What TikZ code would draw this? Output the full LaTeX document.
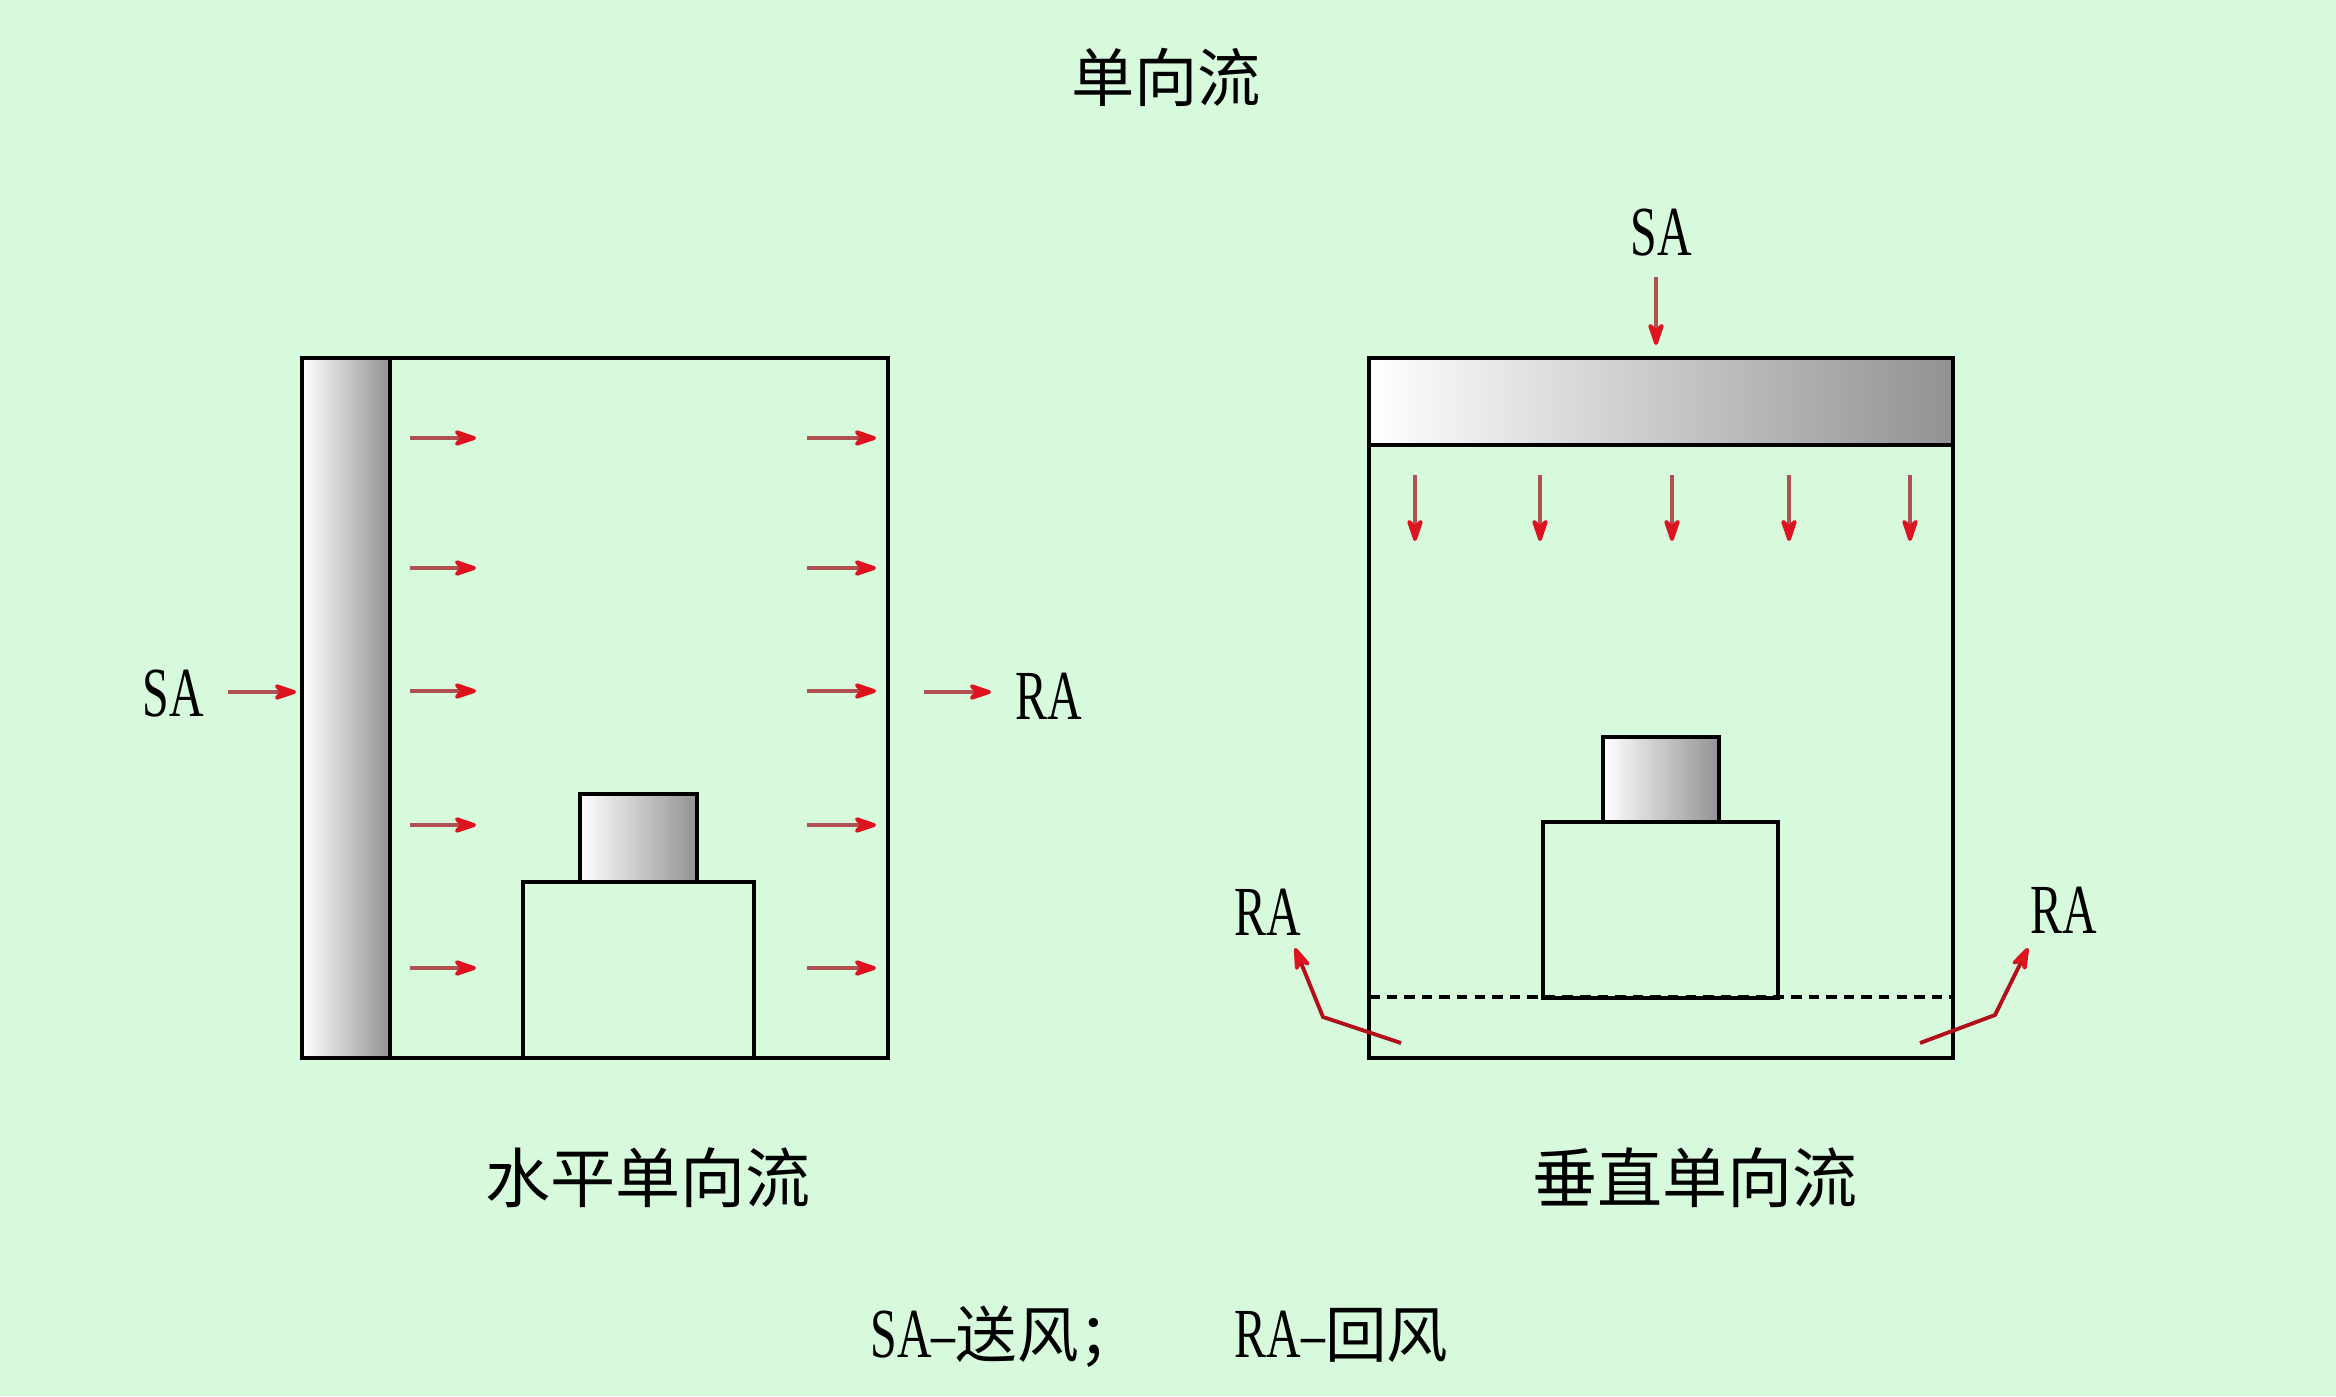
\documentclass[tikz,border=0pt]{standalone}
\usepackage{fontspec}
\usetikzlibrary{arrows.meta, positioning}
\newfontfamily\cjk{Noto Sans CJK SC}
\newfontfamily\latin[FakeStretch=0.68, Ligatures=TeX]{Liberation Serif}
\definecolor{bg}{HTML}{D7F9DC}
\definecolor{flow}{HTML}{DD1420}
\definecolor{shaft}{HTML}{B05050}
\definecolor{panel}{HTML}{929292}
\tikzset{
  wall/.style={draw=black, line width=1.1pt},
  filter/.style={wall, left color=white, right color=panel},
  airflow/.style={shaft, line width=1.1pt,
    -{Stealth[length=3mm, width=2mm, round, color=flow]}},
  tag/.style={font=\latin\fontsize{20}{22}\selectfont, inner sep=0pt},
  caption/.style={font=\cjk\fontsize{18.5}{20}\selectfont, inner sep=0pt},
  legend/.style={font=\cjk\fontsize{17.5}{20}\selectfont, inner sep=0pt, anchor=base west}
}

\begin{document}
\begin{tikzpicture}[x=0.01cm, y=-0.01cm]
  \fill[bg] (0,0) rectangle (2336,1396);
  \useasboundingbox (0,0) rectangle (2336,1396);
  % Title
  \node[caption, font=\cjk\fontsize{18}{20}\selectfont] (title) at (1166,77) {单向流};

  % Horizontal flow room
  \draw[wall] (302,358) rectangle (888,1058);
  \draw[filter] (302,358) rectangle (390,1058);
  \draw[wall] (523,882) rectangle (754,1058);
  \draw[filter] (580,794) rectangle (697,882);
  \foreach \y in {438,568,691,825,968} {
    \draw[airflow] (410,\y) -- (476,\y);
    \draw[airflow] (807,\y) -- (876,\y);
  }
  \node[tag] (saH) at (173,694) {SA};
  \coordinate (saHin) at (296,692);
  \draw[airflow] (228,692) -- (saHin);
  \node[tag] (raH) at (1049,696) {RA};
  \coordinate (raHout) at (924,692);
  \draw[airflow] (raHout) -- (991,692);
  \node[caption] (capH) at (648,1178) {水平单向流};

  % Vertical flow room
  \draw[wall] (1369,358) rectangle (1953,1058);
  \draw[filter] (1369,358) rectangle (1953,445);
  \draw[wall, dashed, line width=0.9pt, dash pattern=on 3pt off 2pt] (1369,997) -- (1953,997);
  \draw[wall] (1543,822) rectangle (1778,998);
  \draw[filter] (1603,737) rectangle (1719,822);
  \foreach \x in {1415,1540,1672,1789,1910}
    \draw[airflow] (\x,475) -- (\x,541);
  \node[tag] (saV) at (1661,233) {SA};
  \coordinate (saVin) at (1656,345);
  \draw[airflow] (1656,277) -- (saVin);
  \node[tag] (raL) at (1268,912) {RA};
  \node[tag] (raR) at (2064,910) {RA};
  \draw[airflow, draw=flow!80!black] (1401,1043) -- (1323,1017) -- (1295,948);
  \draw[airflow, draw=flow!80!black] (1920,1043) -- (1995,1015) -- (2028,948);
  \node[caption] (capV) at (1695,1178) {垂直单向流};

  % Legend
  \node[legend] (legSA) at (870,1357) {{\latin\fontsize{20}{22}\selectfont SA--}送风；};
  \node[legend] (legRA) at (1234,1357) {{\latin\fontsize{20}{22}\selectfont RA--}回风};
\end{tikzpicture}
\end{document}
